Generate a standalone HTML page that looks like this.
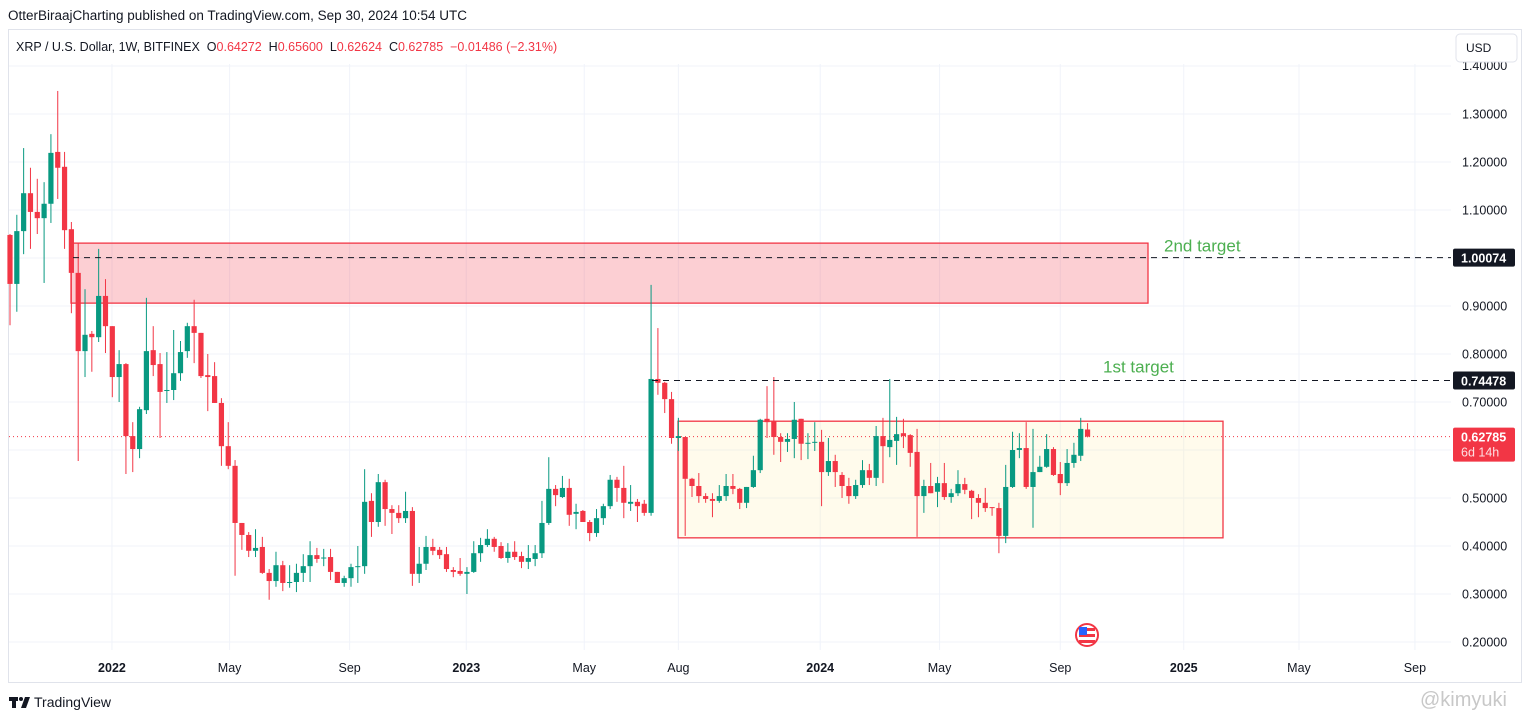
<!DOCTYPE html>
<html><head><meta charset="utf-8">
<style>
body{margin:0;background:#fff;font-family:"Liberation Sans",sans-serif;}
#wrap{position:relative;width:1532px;height:719px;overflow:hidden;background:#fff;}
svg text{font-family:"Liberation Sans",sans-serif;}
</style></head>
<body>
<div id="wrap">
<svg id="chart" width="1532" height="719">
</svg>
</div>
<script>
const O=[1.048,0.946,1.056,1.135,1.096,1.083,1.113,1.221,1.190,1.060,0.969,0.806,0.842,0.835,0.921,0.858,0.752,0.779,0.629,0.602,0.683,0.808,0.779,0.723,0.725,0.760,0.806,0.858,0.844,0.756,0.754,0.698,0.608,0.567,0.448,0.423,0.390,0.398,0.344,0.327,0.360,0.323,0.325,0.344,0.358,0.381,0.375,0.377,0.346,0.323,0.333,0.356,0.358,0.494,0.450,0.533,0.477,0.469,0.458,0.473,0.342,0.363,0.398,0.392,0.383,0.350,0.348,0.342,0.346,0.385,0.402,0.415,0.400,0.375,0.388,0.379,0.367,0.373,0.385,0.448,0.519,0.502,0.521,0.467,0.473,0.450,0.427,0.458,0.483,0.538,0.521,0.488,0.492,0.488,0.469,0.748,0.740,0.706,0.625,0.627,0.540,0.525,0.504,0.498,0.494,0.504,0.525,0.519,0.490,0.523,0.558,0.665,0.660,0.627,0.617,0.623,0.665,0.613,0.615,0.617,0.554,0.577,0.548,0.525,0.504,0.527,0.558,0.542,0.629,0.606,0.619,0.635,0.631,0.596,0.504,0.525,0.513,0.531,0.502,0.510,0.529,0.515,0.500,0.490,0.481,0.479,0.421,0.523,0.600,0.604,0.523,0.554,0.565,0.602,0.550,0.531,0.573,0.588,0.64272];
const H=[1.050,1.090,1.229,1.188,1.165,1.158,1.258,1.348,1.221,1.075,1.031,0.935,0.848,1.019,0.956,0.858,0.808,0.781,0.658,0.690,0.917,0.858,0.802,0.804,0.850,0.827,0.865,0.913,0.844,0.800,0.783,0.708,0.658,0.579,0.448,0.429,0.435,0.419,0.352,0.388,0.369,0.360,0.363,0.383,0.410,0.396,0.394,0.394,0.346,0.338,0.363,0.400,0.560,0.510,0.550,0.538,0.485,0.485,0.513,0.481,0.398,0.421,0.415,0.398,0.398,0.356,0.375,0.356,0.410,0.417,0.435,0.419,0.408,0.406,0.410,0.388,0.402,0.402,0.494,0.585,0.527,0.546,0.540,0.488,0.475,0.454,0.477,0.488,0.548,0.544,0.567,0.527,0.498,0.496,0.944,0.854,0.742,0.721,0.667,0.627,0.542,0.552,0.510,0.510,0.527,0.550,0.550,0.521,0.523,0.588,0.665,0.733,0.752,0.635,0.635,0.700,0.665,0.635,0.658,0.642,0.625,0.590,0.554,0.542,0.538,0.579,0.571,0.650,0.667,0.748,0.669,0.665,0.633,0.644,0.538,0.573,0.544,0.573,0.519,0.558,0.542,0.517,0.508,0.521,0.481,0.490,0.569,0.638,0.635,0.658,0.644,0.588,0.633,0.606,0.575,0.602,0.615,0.667,0.656];
const L=[0.860,0.888,1.008,1.019,1.050,0.948,1.073,1.123,1.019,0.885,0.577,0.752,0.763,0.825,0.802,0.710,0.700,0.550,0.554,0.583,0.675,0.754,0.625,0.698,0.704,0.744,0.792,0.781,0.750,0.681,0.698,0.567,0.560,0.338,0.392,0.377,0.377,0.342,0.288,0.315,0.306,0.313,0.304,0.325,0.325,0.365,0.358,0.329,0.323,0.315,0.315,0.323,0.342,0.419,0.440,0.442,0.425,0.448,0.448,0.317,0.323,0.350,0.381,0.373,0.346,0.335,0.338,0.300,0.344,0.367,0.398,0.388,0.373,0.365,0.371,0.354,0.352,0.358,0.375,0.444,0.483,0.500,0.442,0.435,0.450,0.410,0.419,0.444,0.477,0.492,0.458,0.473,0.450,0.463,0.463,0.715,0.677,0.613,0.598,0.421,0.502,0.490,0.490,0.460,0.490,0.494,0.508,0.477,0.479,0.521,0.552,0.625,0.590,0.575,0.596,0.583,0.579,0.581,0.598,0.483,0.546,0.523,0.500,0.488,0.498,0.521,0.527,0.525,0.531,0.585,0.569,0.604,0.565,0.419,0.469,0.510,0.481,0.496,0.490,0.504,0.508,0.456,0.460,0.471,0.463,0.385,0.406,0.521,0.583,0.519,0.438,0.554,0.563,0.546,0.506,0.525,0.563,0.577,0.62624];
const C=[0.946,1.056,1.135,1.096,1.083,1.113,1.219,1.188,1.058,0.969,0.806,0.840,0.835,0.921,0.858,0.752,0.779,0.629,0.602,0.685,0.806,0.777,0.721,0.725,0.760,0.804,0.858,0.844,0.754,0.752,0.698,0.608,0.567,0.448,0.423,0.390,0.396,0.344,0.327,0.360,0.323,0.325,0.344,0.358,0.381,0.373,0.376,0.346,0.323,0.333,0.356,0.358,0.492,0.450,0.533,0.477,0.469,0.458,0.473,0.342,0.363,0.398,0.390,0.381,0.352,0.346,0.342,0.346,0.385,0.402,0.415,0.398,0.375,0.388,0.377,0.367,0.375,0.385,0.448,0.519,0.506,0.521,0.465,0.471,0.450,0.427,0.458,0.483,0.538,0.521,0.490,0.492,0.483,0.469,0.748,0.740,0.706,0.625,0.629,0.540,0.525,0.504,0.498,0.494,0.504,0.525,0.519,0.490,0.523,0.558,0.663,0.658,0.627,0.617,0.623,0.663,0.613,0.615,0.617,0.554,0.577,0.554,0.525,0.504,0.527,0.558,0.542,0.629,0.608,0.621,0.633,0.629,0.594,0.504,0.525,0.510,0.531,0.502,0.510,0.529,0.517,0.500,0.490,0.479,0.479,0.421,0.523,0.600,0.604,0.523,0.554,0.565,0.602,0.548,0.531,0.573,0.590,0.644,0.62785];
const priceTicks=[1.4,1.3,1.2,1.1,1.0,0.9,0.8,0.7,0.6,0.5,0.4,0.3,0.2];
const timeLabels=["2022","May","Sep","2023","May","Aug","2024","May","Sep","2025","May","Sep"];
const timeWeeks=[14.95,32.2,49.8,66.9,84.2,98,118.8,136.3,154,172.1,189,206];
const boldLabels=["2022","2023","2024","2025"];
const zoneRed=[1.031,0.906];
const zoneBox=[0.660,0.417];
const target1=0.74478, target2=1.00074, lastPrice=0.62785;

const NS="http://www.w3.org/2000/svg";
const svg=document.getElementById('chart');
const y=p=>738-p*480;
const x=i=>10+i*6.82;
function mk(tag,attrs,parent){const e=document.createElementNS(NS,tag);for(const k in attrs)e.setAttribute(k,attrs[k]);(parent||svg).appendChild(e);return e;}
const PR=1451;
let e=mk('rect',{x:8.5,y:29.5,width:1513,height:653,fill:'none',stroke:'#e0e3eb'});


priceTicks.forEach(p=>{
 let g=mk('line',{x1:9,x2:PR,y1:y(p),y2:y(p),stroke:'#f0f3fa','stroke-width':1});
 
 
 if(p<1.39){let t=mk('text',{x:1462,y:y(p)+4.5,'font-size':12.5,fill:'#131722'});t.textContent=p.toFixed(5);
 
 }
});
let t14=mk('text',{x:1462,y:70,'font-size':12.5,fill:'#131722'});t14.textContent='1.40000';


timeLabels.forEach((lab,k)=>{
 const xx=x(timeWeeks[k]);
 let g=mk('line',{x1:xx,x2:xx,y1:30,y2:650,stroke:'#f0f3fa'});
 
 
 let t=mk('text',{x:xx,y:672,'font-size':12.5,fill:'#131722','text-anchor':'middle','font-weight':boldLabels.includes(lab)?'bold':'normal'});
 t.textContent=lab;
 
 
});
let cov=mk('rect',{x:9,y:30,width:1442,height:34,fill:'#fff'});


let rz=mk('rect',{x:71,y:y(zoneRed[0]),width:1077,height:y(zoneRed[1])-y(zoneRed[0]),fill:'rgba(242,54,69,0.24)',stroke:'#f23645','stroke-width':1.3});


let yb=mk('rect',{x:678,y:y(zoneBox[0]),width:545,height:y(zoneBox[1])-y(zoneBox[0]),fill:'rgba(255,235,150,0.18)',stroke:'#f23645','stroke-width':1.3});


let lp=mk('line',{x1:9,x2:PR,y1:y(lastPrice),y2:y(lastPrice),stroke:'#f23645','stroke-dasharray':'1 3','stroke-width':1});


for(let i=0;i<O.length;i++){
 const up=C[i]>=O[i];const col=up?'#089981':'#f23645';
 const g=mk('g',{});
 
 
 mk('line',{x1:x(i),x2:x(i),y1:y(H[i]),y2:y(L[i]),stroke:col,'stroke-width':1},g);
 const top=y(Math.max(O[i],C[i])),bot=y(Math.min(O[i],C[i]));
 mk('rect',{x:x(i)-2.6,y:top,width:5.2,height:Math.max(1,bot-top),fill:col},g);
}
let d2=mk('line',{x1:73,x2:PR,y1:y(target2),y2:y(target2),stroke:'#131722','stroke-dasharray':'6 5','stroke-width':1});


let d1=mk('line',{x1:652,x2:PR,y1:y(target1),y2:y(target1),stroke:'#131722','stroke-dasharray':'6 5','stroke-width':1});


let tt2=mk('text',{x:1164,y:y(target2)-6,'font-size':17,fill:'#4caf50'});tt2.textContent='2nd target';


let tt1=mk('text',{x:1103,y:y(target1)-8,'font-size':17,fill:'#4caf50'});tt1.textContent='1st target';


function plabel(p,bg,lines,name){
 const h=lines.length>1?34:18;const yy=y(p)-9;
 const g=mk('g',{});
 
 
 mk('rect',{x:1453,y:yy,width:62,height:h,rx:2,fill:bg},g);
 lines.forEach((s,k)=>{const t=mk('text',{x:1461,y:yy+14+k*15,'font-size':12.5,fill:k?'#fde0e2':'#fff','font-weight':k?'normal':'bold'},g);t.textContent=s;});
}
plabel(target2,'#131722',['1.00074'],'second-target-price-label');
plabel(target1,'#131722',['0.74478'],'first-target-price-label');
plabel(lastPrice,'#f23645',['0.62785','6d 14h'],'last-price-label');
const fg=mk('g',{});


mk('circle',{cx:1087,cy:635,r:11,fill:'#fff',stroke:'#f23645','stroke-width':2},fg);
mk('rect',{x:1079,y:628,width:16,height:3,fill:'#f23645'},fg);
mk('rect',{x:1079,y:634,width:16,height:3,fill:'#f23645'},fg);
mk('rect',{x:1079,y:640,width:16,height:3,fill:'#f23645'},fg);
mk('rect',{x:1079,y:627,width:8,height:8,fill:'#2962ff'},fg);
const ub=mk('g',{});


mk('rect',{x:1456,y:34,width:61,height:28,rx:4,fill:'#fff',stroke:'#e0e3eb'},ub);
let ut=mk('text',{x:1466,y:52,'font-size':12,fill:'#131722'},ub);ut.textContent='USD';
let h1=mk('text',{x:8,y:20,'font-size':13.5,fill:'#131722'});h1.textContent='OtterBiraajCharting published on TradingView.com, Sep 30, 2024 10:54 UTC';


const lg=mk('text',{x:16,y:51,'font-size':12.5,fill:'#131722'});


const NB='\u00a0\u00a0';
[['XRP / U.S. Dollar, 1W, BITFINEX'+NB,'#131722'],['O','#131722'],['0.64272'+NB,'#f23645'],['H','#131722'],['0.65600'+NB,'#f23645'],['L','#131722'],['0.62624'+NB,'#f23645'],['C','#131722'],['0.62785'+NB,'#f23645'],['\u22120.01486 (\u22122.31%)','#f23645']].forEach(([s,c])=>{const ts=mk('tspan',{fill:c},lg);ts.textContent=s;});
const lf=mk('g',{});


mk('rect',{x:9,y:697,width:9,height:4,fill:'#131722'},lf);
mk('rect',{x:12,y:697,width:4,height:11,fill:'#131722'},lf);
mk('circle',{cx:21,cy:699,r:2,fill:'#131722'},lf);
mk('polygon',{points:'25,697 30,697 26,708 21,708',fill:'#131722'},lf);
let lt=mk('text',{x:34,y:707,'font-size':14,fill:'#131722'},lf);lt.textContent='TradingView';
let wm=mk('text',{x:1420,y:706,'font-size':20,fill:'#c8c8c8'});wm.textContent='@kimyuki';


</script>
</body></html>
